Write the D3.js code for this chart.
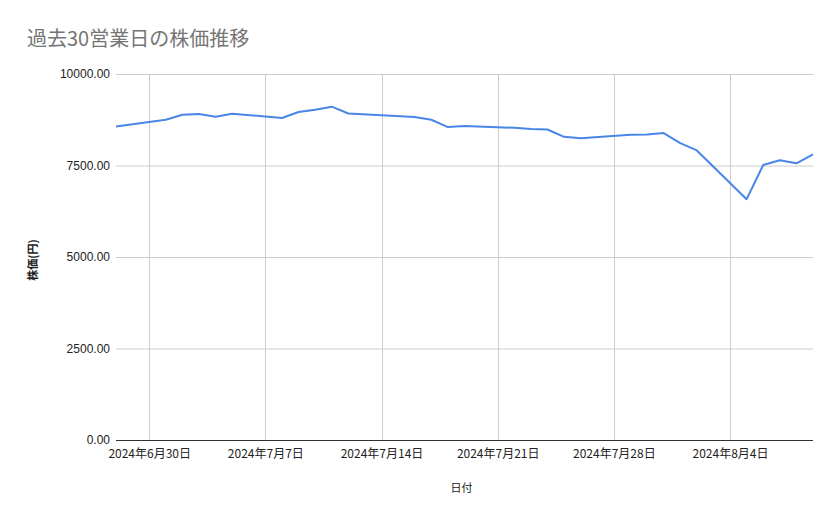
<!DOCTYPE html>
<html>
<head>
<meta charset="utf-8">
<script src="https://cdn.jsdelivr.net/npm/d3@7/dist/d3.min.js"></script>
<style>
  body { margin: 0; background: #fff; }
  svg { display: block; font-family: Roboto, 'Noto Sans CJK JP', sans-serif; }
</style>
</head>
<body>
<div id="chart"></div>
<script>
// 過去30営業日 (7/15 海の日は休場)
var dates = [
  '2024-06-28',
  '2024-07-01', '2024-07-02', '2024-07-03', '2024-07-04', '2024-07-05',
  '2024-07-08', '2024-07-09', '2024-07-10', '2024-07-11', '2024-07-12',
  '2024-07-16', '2024-07-17', '2024-07-18', '2024-07-19',
  '2024-07-22', '2024-07-23', '2024-07-24', '2024-07-25', '2024-07-26',
  '2024-07-29', '2024-07-30', '2024-07-31', '2024-08-01', '2024-08-02',
  '2024-08-05', '2024-08-06', '2024-08-07', '2024-08-08', '2024-08-09'
]
var prices = [
  8566,
  8750, 8887, 8907, 8833, 8915,
  8797, 8962, 9025, 9107, 8920,
  8827, 8750, 8550, 8577,
  8530, 8495, 8484, 8283, 8247,
  8338, 8346, 8385, 8110, 7912,
  6580, 7514, 7643, 7561, 7802
]
var yTicks = [0, 2500, 5000, 7500, 10000]

var W = 839
var H = 519
var margin = { top: 74, right: 26, bottom: 79, left: 116 }
var w = W - margin.left - margin.right
var h = H - margin.top - margin.bottom

var parse = d3.timeParse('%Y-%m-%d')
var data = dates.map(function (d, i) { return { date: parse(d), value: prices[i] } })

var x = d3.scaleTime()
  .domain(d3.extent(data, function (d) { return d.date }))
  .range([0, w])
var y = d3.scaleLinear().domain([0, 10000]).range([h, 0])

var svg = d3.select('#chart').append('svg')
  .attr('width', W)
  .attr('height', H)

svg.append('text')
  .attr('x', 27)
  .attr('y', 46)
  .attr('fill', '#757575')
  .attr('font-size', 20)
  .attr('font-family', "'Noto Sans CJK JP', sans-serif")
  .text('過去30営業日の株価推移')

var g = svg.append('g')
  .attr('transform', 'translate(' + margin.left + ',' + margin.top + ')')

// vertical grid (Sundays)
var weeks = d3.timeWeek.range(x.domain()[0], x.domain()[1])
g.append('g').attr('class', 'x grid')
  .selectAll('line').data(weeks).enter().append('line')
  .attr('x1', function (d) { return Math.round(x(d)) + 0.5 })
  .attr('x2', function (d) { return Math.round(x(d)) + 0.5 })
  .attr('y1', 0)
  .attr('y2', h)
  .attr('stroke', '#cccccc')

// y axis with horizontal grid
var yAxis = g.append('g').attr('class', 'y axis')
  .call(d3.axisLeft(y).tickValues(yTicks).tickSize(-w).tickPadding(6)
    .tickFormat(d3.format('.2f')))
yAxis.select('.domain').remove()
yAxis.selectAll('.tick line')
  .attr('stroke', function (d) { return d === 0 ? '#333333' : '#cccccc' })
yAxis.selectAll('.tick text')
  .attr('fill', '#222')
  .attr('font-size', 12)

// x axis labels
var fmt = d3.timeFormat('%Y年%-m月%-d日')
var xAxis = g.append('g').attr('class', 'x axis')
  .attr('transform', 'translate(0,' + h + ')')
  .call(d3.axisBottom(x).tickValues(weeks).tickSize(0).tickPadding(9).tickFormat(fmt))
xAxis.select('.domain').remove()
xAxis.selectAll('.tick text')
  .attr('fill', '#222')
  .attr('font-size', 12)
  .attr('font-family', "'Noto Sans CJK JP', sans-serif")

var line = d3.line()
  .x(function (d) { return x(d.date) })
  .y(function (d) { return y(d.value) })

g.append('path')
  .datum(data)
  .attr('class', 'data')
  .attr('fill', 'none')
  .attr('stroke', '#4a86e8')
  .attr('stroke-width', 2)
  .attr('stroke-linejoin', 'round')
  .attr('d', line)

// axis titles
svg.append('text')
  .attr('x', margin.left + w / 2 - 3)
  .attr('y', 492)
  .attr('text-anchor', 'middle')
  .attr('fill', '#222')
  .attr('font-size', 11)
  .attr('font-family', "'Noto Sans CJK JP', sans-serif")
  .text('日付')

svg.append('text')
  .attr('transform', 'translate(37,260) rotate(-90)')
  .attr('text-anchor', 'middle')
  .attr('fill', '#222')
  .attr('font-size', 11)
  .attr('font-weight', 'bold')
  .attr('font-family', "'Noto Sans CJK JP', sans-serif")
  .text('株価(円)')
</script>
</body>
</html>
